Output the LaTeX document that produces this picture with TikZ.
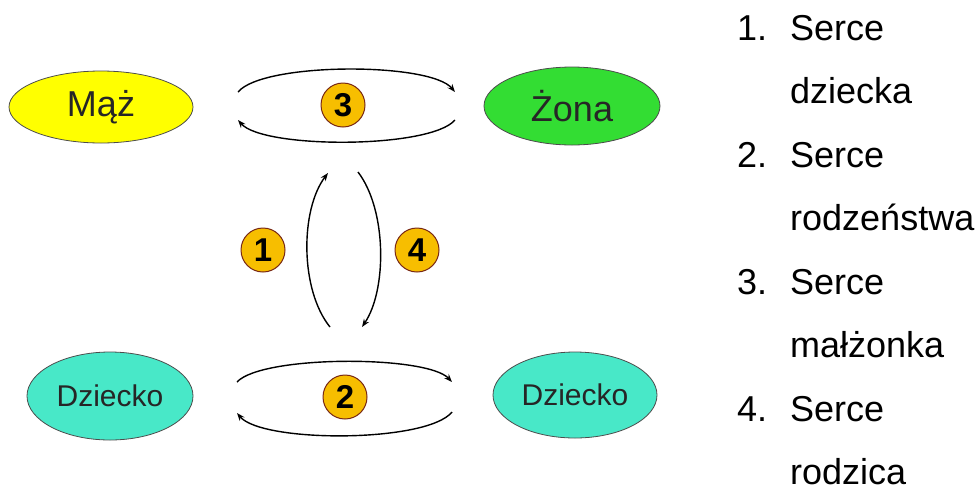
\documentclass[tikz,border=0pt]{standalone}
\usepackage{fontspec}
\setmainfont{Liberation Sans}
\usetikzlibrary{shapes.geometric,arrows.meta}
\definecolor{mazcol}{RGB}{255,255,0}
\definecolor{zonacol}{RGB}{51,221,51}
\definecolor{dzieckocol}{RGB}{72,232,200}
\definecolor{numfill}{RGB}{247,190,0}
\definecolor{numline}{RGB}{120,40,20}
\tikzset{
  osoba/.style={ellipse, draw=black!70, line width=0.8pt, inner sep=0pt, text=black!85},
  numer/.style={circle, draw=numline, fill=numfill, line width=1pt, minimum size=44pt, inner sep=0pt, font=\fontsize{33}{33}\selectfont\bfseries},
  luk/.style={line width=1.4pt, -{Stealth[length=8pt,width=6pt]}},
  legenda/.style={anchor=base west, inner sep=0pt, font=\fontsize{36}{36}\selectfont}
}

\begin{document}
\begin{tikzpicture}[x=1pt,y=-1pt]
				\useasboundingbox (0,0) rectangle (979,491);
				
				\node[osoba, fill=mazcol, minimum width=184pt, minimum height=72pt, font=\fontsize{36}{36}\selectfont] (maz) at (101,107) {Mąż};
				\node[osoba, fill=zonacol, minimum width=176pt, minimum height=78pt, font=\fontsize{36}{36}\selectfont] (zona) at (572,106) {Żona};
				\node[osoba, fill=dzieckocol, minimum width=166pt, minimum height=88pt, font=\fontsize{30}{30}\selectfont] (dzieckoL) at (110,396) {Dziecko};
				\node[osoba, fill=dzieckocol, minimum width=164pt, minimum height=86pt, font=\fontsize{30}{30}\selectfont] (dzieckoP) at (575,395) {Dziecko};
				
				\node[numer] (n3) at (343,105) {3};
				\node[numer] (n2) at (345,397) {2};
				\node[numer] (n1) at (263,250) {1};
				\node[numer] (n4) at (417,250) {4};
				
				\coordinate (g3a) at (238,92);
				\coordinate (g3b) at (455,92);
				\coordinate (d3a) at (455,120);
				\coordinate (d3b) at (238,120);
				\draw[luk] (g3a) .. controls (263,62) and (430,62) .. (g3b);
				\draw[luk] (d3a) .. controls (430,149) and (263,149) .. (d3b);
				
				\coordinate (l1a) at (330,327);
				\coordinate (l1b) at (328,173);
				\coordinate (p4a) at (358,172);
				\coordinate (p4b) at (362,327);
				\draw[luk] (l1a) .. controls (300,290) and (300,210) .. (l1b);
				\draw[luk] (p4a) .. controls (387,210) and (387,290) .. (p4b);
				
				\coordinate (g2a) at (237,382);
				\coordinate (g2b) at (452,382);
				\coordinate (d2a) at (452,412);
				\coordinate (d2b) at (237,413);
				\draw[luk] (g2a) .. controls (262,355) and (427,355) .. (g2b);
				\draw[luk] (d2a) .. controls (427,443) and (262,443) .. (d2b);
				
				\node[legenda] (nr1) at (737,40) {1.};
				\node[legenda] (s1) at (790,40) {Serce};
				\node[legenda] (o1) at (790,103.5) {dziecka};
				\node[legenda] (nr2) at (737,167) {2.};
				\node[legenda] (s2) at (790,167) {Serce};
				\node[legenda] (o2) at (790,230.5) {rodzeństwa};
				\node[legenda] (nr3) at (737,294) {3.};
				\node[legenda] (s3) at (790,294) {Serce};
				\node[legenda] (o3) at (790,357.5) {małżonka};
				\node[legenda] (nr4) at (737,421) {4.};
				\node[legenda] (s4) at (790,421) {Serce};
				\node[legenda] (o4) at (790,484) {rodzica};
			\end{tikzpicture}
\end{document}
